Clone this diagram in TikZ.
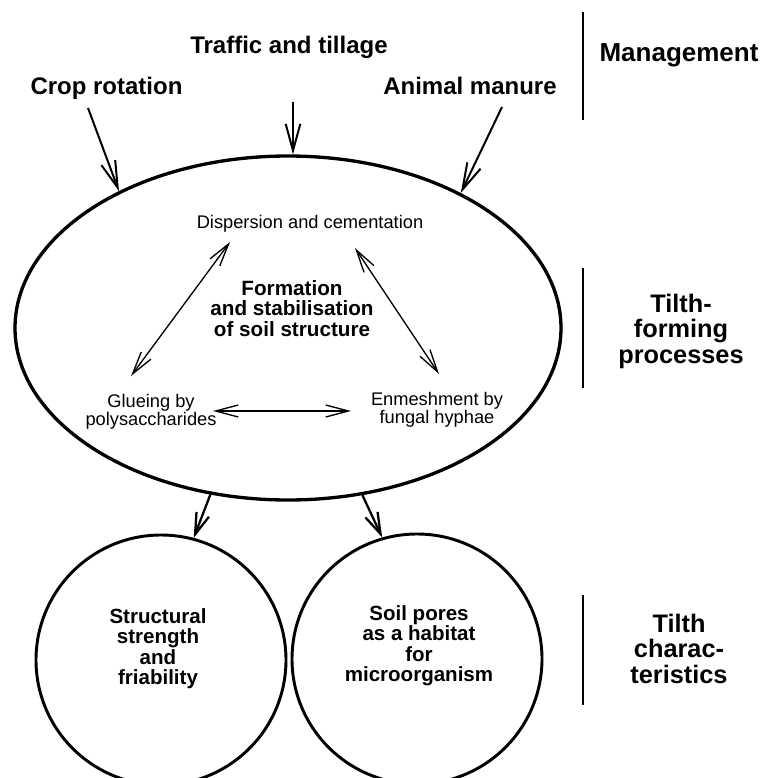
\documentclass[tikz,border=0pt]{standalone}
\usepackage{fontspec}
\setmainfont{Liberation Sans}
\usetikzlibrary{shapes.geometric,arrows.meta}
\begin{document}
\begin{tikzpicture}[x=0.75pt,y=-0.75pt,
  toplab/.style={font=\fontsize{18}{18}\selectfont\bfseries, inner sep=0pt, anchor=base},
  sidelab/.style={font=\fontsize{19}{19}\selectfont\bfseries, align=center, inner sep=0pt, anchor=north},
  proc/.style={font=\fontsize{13.7}{13.7}\selectfont, align=center, inner sep=0pt},
  mainlab/.style={font=\fontsize{15.5}{15.5}\selectfont\bfseries, align=center, inner sep=0pt, anchor=north},
  circlab/.style={font=\fontsize{15.4}{15.4}\selectfont\bfseries, align=center, inner sep=0pt, anchor=north},
  bigell/.style={ellipse, draw, line width=2.5pt, minimum width=409.5pt, minimum height=258pt, inner sep=0pt},
  circ/.style={circle, draw, line width=2.2pt, minimum size=187.5pt, inner sep=0pt},
  bar/.style={line width=2pt},
  inarr/.style={line width=1pt, {Straight Barb[length=17pt,width=9pt]}-{Straight Barb[length=17pt,width=9pt]}},
  toparr/.style={line width=1.5pt, -{Straight Barb[length=20pt,width=11pt]}},
  botarr/.style={line width=1.7pt, -{Straight Barb[length=16pt,width=10pt]}}
]
\clip (0,0) rectangle (765,778);

% shapes
\node[bigell] (big) at (288,328) {};
\node[circ] (c1) at (161,660) {};
\node[circ] (c2) at (417,659) {};

% management labels
\node[toplab] (traffic) at (289,53) {Traffic and tillage};
\node[toplab] (crop) at (106.5,94) {Crop rotation};
\node[toplab] (manure) at (470,94) {Animal manure};

% side labels and bars
\node[toplab, font=\fontsize{19.5}{19.5}\selectfont\bfseries] (mgmt) at (679,61) {Management};
\node[sidelab] (tfp) at (681,294) {Tilth-\\forming\\processes};
\node[sidelab] (tch) at (679,614) {Tilth\\charac-\\teristics};
\draw[bar] (583,12) -- (583,120);
\draw[bar] (583,268) -- (583,388);
\draw[bar] (583,595) -- (583,705);

% processes inside the ellipse
\node[proc, anchor=base] (disp) at (310,228) {Dispersion and cementation};
\node[mainlab] (form) at (292,280) {Formation\\and stabilisation\\of soil structure};
\node[proc, anchor=north] (glue) at (151,394) {Glueing by\\polysaccharides};
\node[proc, anchor=north] (enm) at (437,392) {Enmeshment by\\fungal hyphae};

% characteristics
\node[circlab] (strength) at (158,608) {Structural\\strength\\and\\friability};
\node[circlab] (pores) at (419,605) {Soil pores\\as a habitat\\for\\microorganism};

% connector end points
\coordinate (cropA) at (88,108);
\coordinate (traffA) at (293,102);
\coordinate (manA) at (502,107);
\coordinate (d1) at (230,242);
\coordinate (g1) at (131,376);
\coordinate (d2) at (355,248);
\coordinate (e1) at (439,374);
\coordinate (g2) at (213,411);
\coordinate (e2) at (351,411);

% management arrows
\draw[toparr] (cropA) -- (big.141);
\draw[toparr] (traffA) -- (traffA |- big.north);
\draw[toparr] (manA) -- (big.38);

% process arrows
\draw[inarr] (g1) -- (d1);
\draw[inarr] (d2) -- (e1);
\draw[inarr] (g2) -- (e2);

% ellipse to circles
\draw[botarr] (big.245) -- (c1.75);
\draw[botarr] (big.294) -- (c2.106);
\end{tikzpicture}
\end{document}
